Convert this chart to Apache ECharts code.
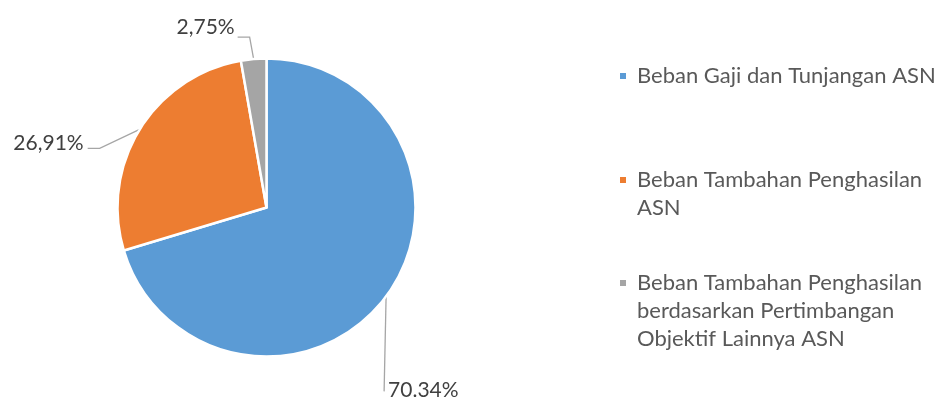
<!DOCTYPE html>
<html>
<head>
<meta charset="utf-8">
<script src="https://cdn.jsdelivr.net/npm/echarts@6/dist/echarts.min.js"></script>
<style>
  html, body { margin: 0; padding: 0; background: #fff; }
  #chart { width: 937px; height: 403px; }
</style>
</head>
<body>
<div id="chart"></div>
<script>
// data
var names = [
    'Beban Gaji dan Tunjangan ASN',
    'Beban Tambahan Penghasilan ASN',
    'Beban Tambahan Penghasilan berdasarkan Pertimbangan Objektif Lainnya ASN'
];
var values = [70.34, 26.91, 2.75];
var valueLabels = ['70.34%', '26,91%', '2,75%'];
// legend text as it wraps in the original
var legendLines = [
    ['Beban Gaji dan Tunjangan ASN'],
    ['Beban Tambahan Penghasilan', 'ASN'],
    ['Beban Tambahan Penghasilan', 'berdasarkan Pertimbangan', 'Objektif Lainnya ASN']
];
var colors = ['#5B9BD5', '#ED7D31', '#A5A5A5'];

var font = 'Lato';
var myChart = echarts.init(document.getElementById('chart'));

// one legend per item, so the spacing matches the original
// blank lines in front keep the marker on the first text line
var legendTops = [62, 138, 213];
var legends = [];
for (var i = 0; i < names.length; i++) {
    legends.push({
        orient: 'vertical',
        left: 618,
        top: legendTops[i],
        padding: 0,
        itemWidth: 8,
        itemHeight: 8,
        icon: 'rect',
        selectedMode: false,
        data: [names[i]],
        formatter: (function (k) {
            return function () {
                var lines = legendLines[k].slice();
                for (var m = 1; m < legendLines[k].length; m++) lines.unshift(' ');
                return lines.join('\n');
            };
        })(i),
        textStyle: {
            fontFamily: font,
            fontSize: 22,
            color: '#595959',
            lineHeight: 28,
            padding: [0, 0, 0, 5]
        }
    });
}

var data = [];
for (var j = 0; j < names.length; j++) {
    data.push({ name: names[j], value: values[j], itemStyle: { color: colors[j] } });
}

var option = {
    animation: false,
    legend: legends,
    series: [{
        type: 'pie',
        center: [266.5, 207.5],
        radius: 149,
        startAngle: 90,
        clockwise: true,
        data: data,
        itemStyle: {
            borderColor: '#fff',
            borderWidth: 2.5
        },
        label: {
            show: true,
            position: 'outside',
            fontFamily: font,
            fontSize: 21,
            color: '#404040',
            formatter: function (p) { return valueLabels[p.dataIndex]; }
        },
        labelLine: {
            show: true,
            length: 20,
            length2: 12,
            lineStyle: { color: '#A6A6A6', width: 1.3 }
        },
        labelLayout: function (params) {
            var e = params.labelLinePoints[0];
            var i = params.dataIndex;
            if (i === 0) {
                var b = [e[0] - 2, e[1] + 95];
                return {
                    x: b[0] + 4, y: b[1] - 1, align: 'left', verticalAlign: 'middle',
                    labelLinePoints: [e, b, b]
                };
            }
            if (i === 1) {
                var b1 = [e[0] - 40, e[1] + 19];
                var c1 = [b1[0] - 12, b1[1]];
                return {
                    x: c1[0] - 4, y: c1[1] - 5, align: 'right', verticalAlign: 'middle',
                    labelLinePoints: [e, b1, c1]
                };
            }
            var b2 = [e[0] - 4, e[1] - 22];
            var c2 = [b2[0] - 12, b2[1]];
            return {
                x: c2[0] - 3, y: c2[1] - 10, align: 'right', verticalAlign: 'middle',
                labelLinePoints: [e, b2, c2]
            };
        }
    }]
};
myChart.setOption(option);
window.addEventListener('resize', function () {
    myChart.resize();
});
</script>
</body>
</html>
